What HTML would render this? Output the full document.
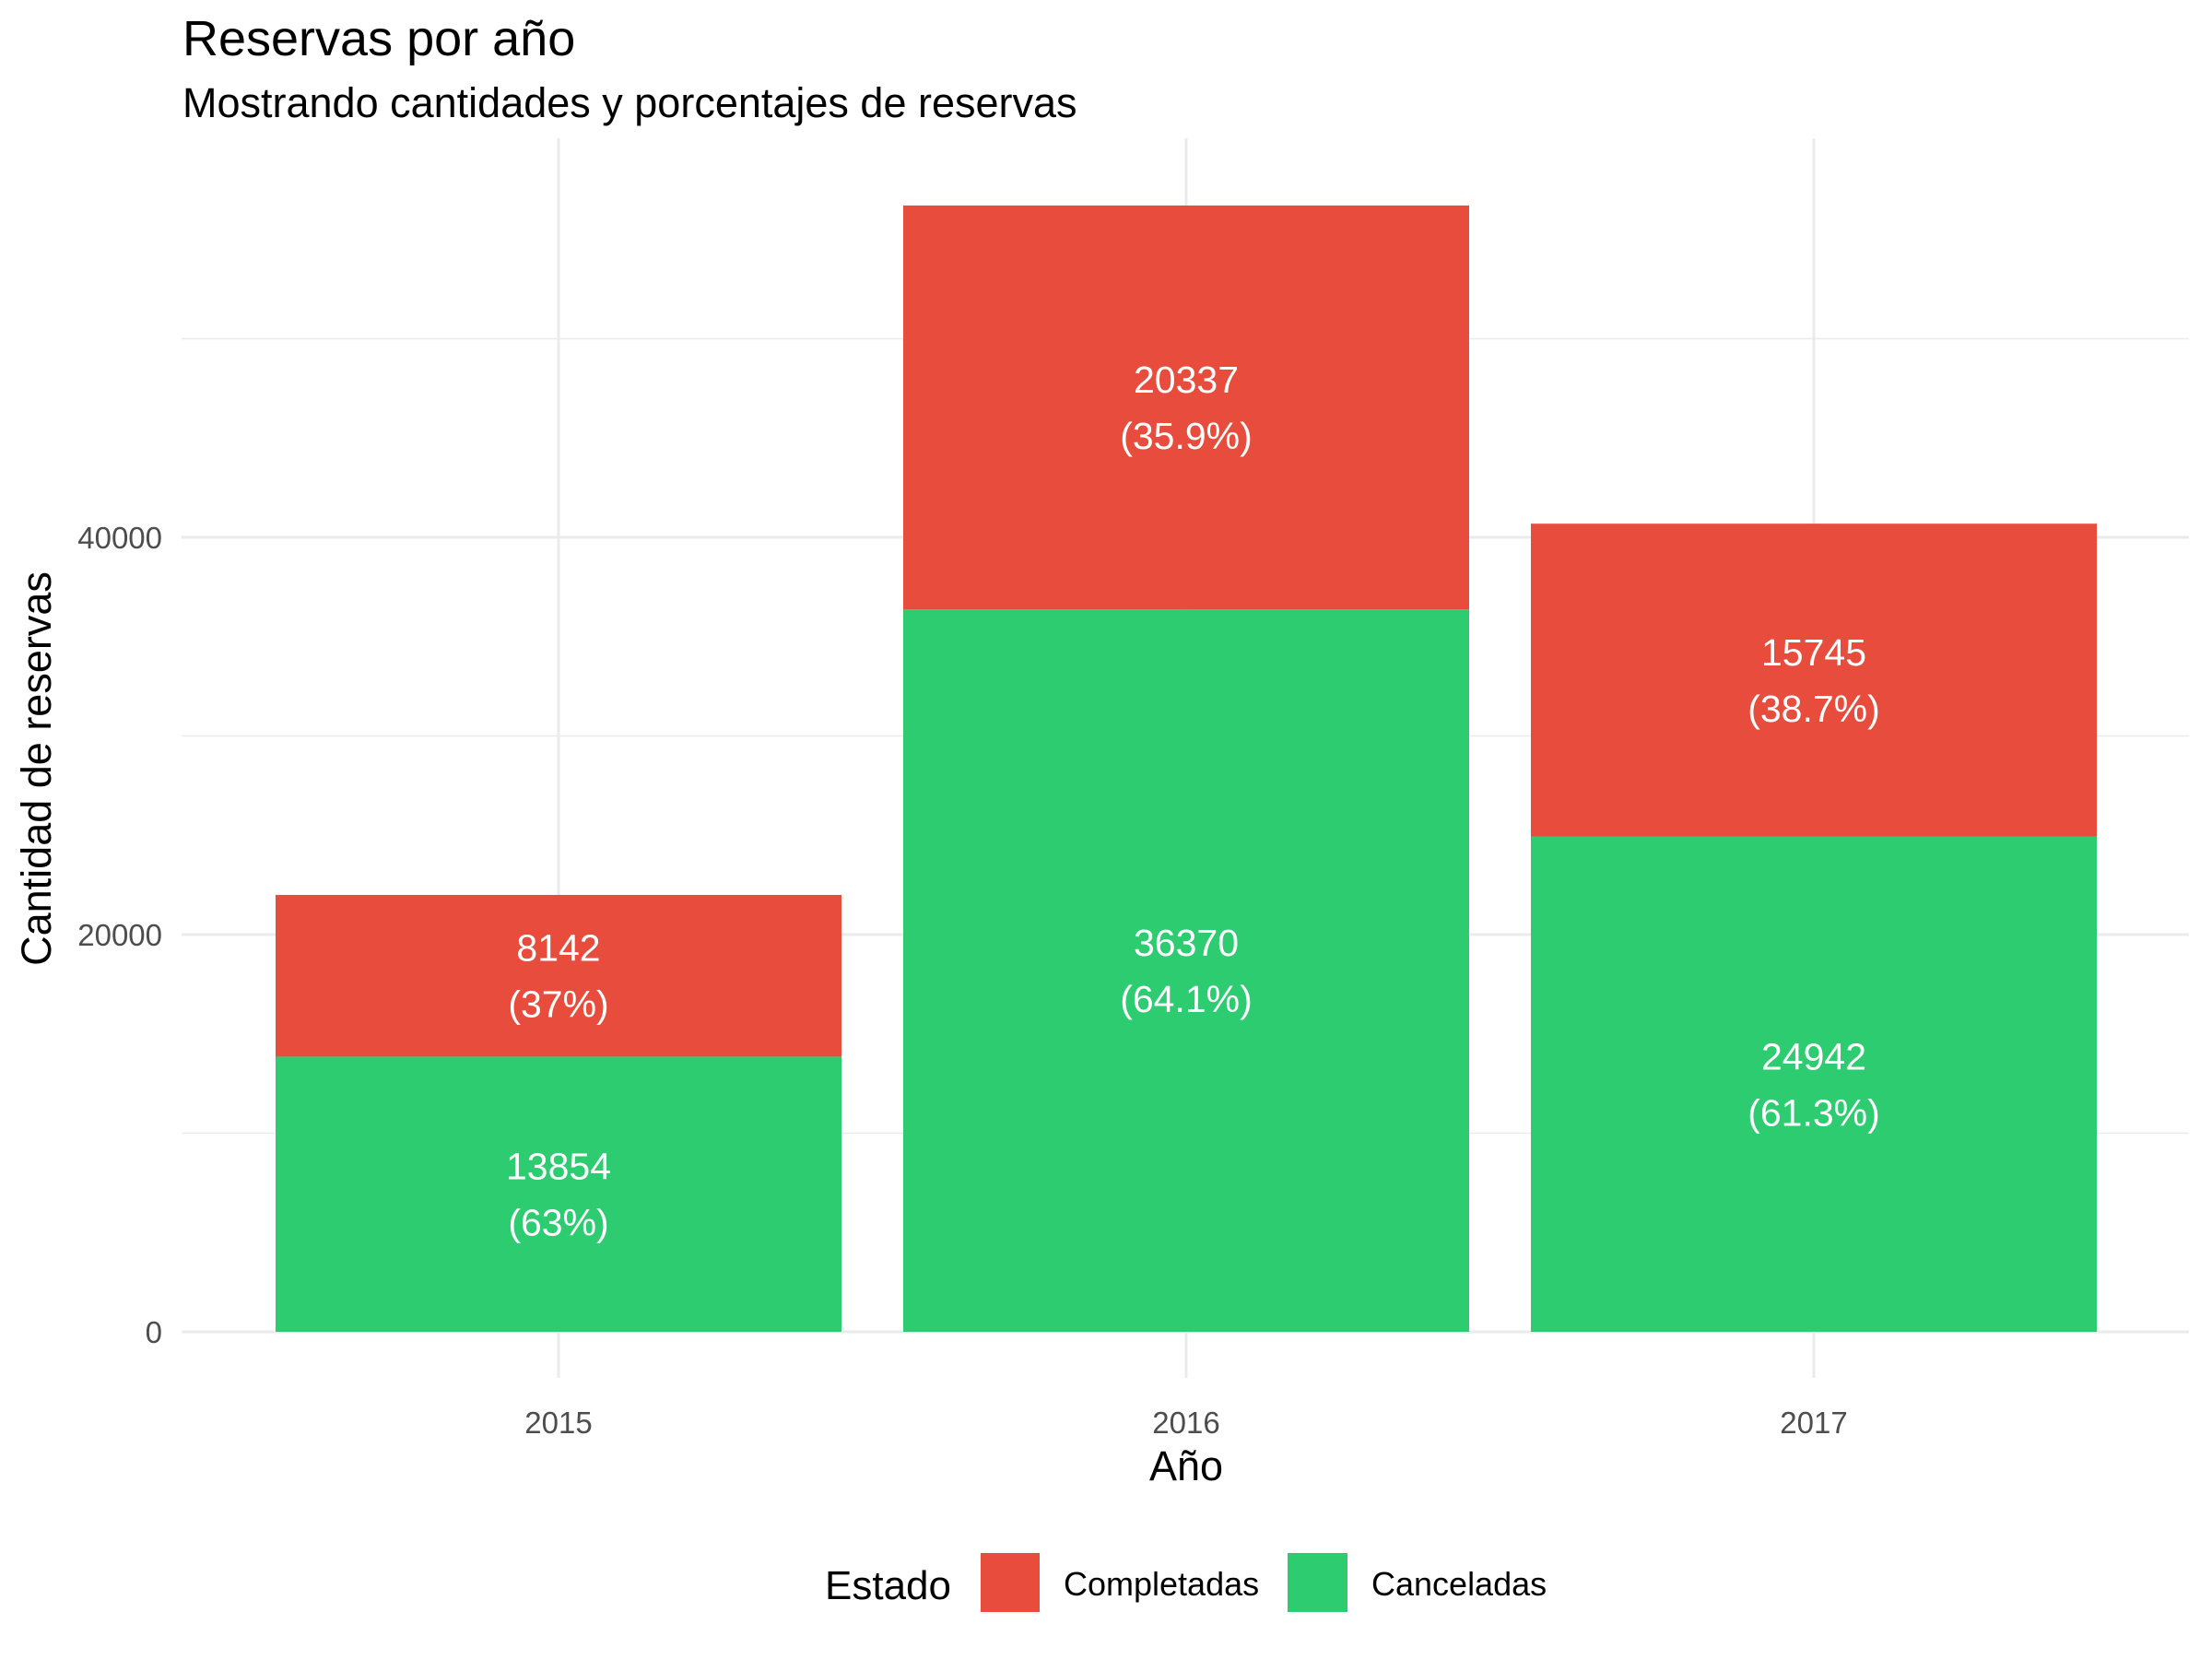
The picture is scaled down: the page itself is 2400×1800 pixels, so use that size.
<!DOCTYPE html>
<html><head><meta charset="utf-8"><style>
html,body{margin:0;padding:0;background:#fff;}
svg{display:block;font-family:"Liberation Sans",sans-serif;}
</style></head><body>
<svg id="chart" width="2400" height="1800" viewBox="0 0 2400 1800">
<text x="198" y="60" font-size="54" fill="#000">Reservas por año</text>
<text x="198" y="127" font-size="45" fill="#000">Mostrando cantidades y porcentajes de reservas</text>
<g id="grid"></g><g id="bars"></g><g id="labels"></g><g id="axes"></g>
<text x="1287" y="1606" font-size="45" text-anchor="middle" fill="#000">Año</text>
<text transform="translate(55,834) rotate(-90)" font-size="45" text-anchor="middle" fill="#000">Cantidad de reservas</text>
<g>
<text x="895" y="1735" font-size="44" fill="#000">Estado</text>
<rect x="1064" y="1685" width="64" height="64" fill="#E74C3C"/>
<text x="1154" y="1731" font-size="36" fill="#000">Completadas</text>
<rect x="1397" y="1685" width="65" height="64" fill="#2ECC71"/>
<text x="1488" y="1731" font-size="36" fill="#000">Canceladas</text>
</g>
</svg>
<script>
const years = ["2015","2016","2017"];
const canceladas = [13854, 36370, 24942];
const completadas = [8142, 20337, 15745];
const yTicks = [0, 20000, 40000];
const yMinor = [10000, 30000, 50000];

const NS="http://www.w3.org/2000/svg";
const y0=1445, pxPer=862/40000;
const yS=v=>y0-v*pxPer;
const xS=i=>606+i*681;
const bw=614;
function mk(tag,attrs,parent){const e=document.createElementNS(NS,tag);for(const k in attrs)e.setAttribute(k,attrs[k]);parent.appendChild(e);return e;}
const grid=document.getElementById('grid'),bars=document.getElementById('bars'),labels=document.getElementById('labels'),axes=document.getElementById('axes');
yMinor.forEach(v=>{const l=mk('line',{x1:197,x2:2375,y1:yS(v),y2:yS(v),stroke:'#ebebeb','stroke-width':1.6},grid);

});
yTicks.forEach(v=>{const l=mk('line',{x1:197,x2:2375,y1:yS(v),y2:yS(v),stroke:'#ebebeb','stroke-width':3},grid);


const t=mk('text',{x:176,y:yS(v)+12,'font-size':33,'text-anchor':'end',fill:'#4d4d4d'},axes);t.textContent=v;

});
years.forEach((yr,i)=>{
const l=mk('line',{x1:xS(i),x2:xS(i),y1:150,y2:1495,stroke:'#ebebeb','stroke-width':3},grid);


const t=mk('text',{x:xS(i),y:1555,'font-size':33,'text-anchor':'middle',fill:'#4d4d4d'},axes);t.textContent=yr;


const c=canceladas[i],p=completadas[i],tot=c+p;
const g=mk('rect',{x:xS(i)-bw/2,y:yS(c),width:bw,height:yS(0)-yS(c),fill:'#2ECC71'},bars);


const r=mk('rect',{x:xS(i)-bw/2,y:yS(tot),width:bw,height:yS(c)-yS(tot),fill:'#E74C3C'},bars);


const fmt=v=>{const x=Math.round(v/tot*1000)/10;return '('+x+'%)';};
[[c, c/2, 'canceladas'],[p, c+p/2, 'completadas']].forEach(([val,mid,nm])=>{
const ym=yS(mid);
const a=mk('text',{x:xS(i),y:ym-16,'font-size':41,'text-anchor':'middle',fill:'#fff'},labels);a.textContent=val;


const b=mk('text',{x:xS(i),y:ym+45,'font-size':41,'text-anchor':'middle',fill:'#fff'},labels);b.textContent=fmt(val);


});
});
</script>
</body></html>
